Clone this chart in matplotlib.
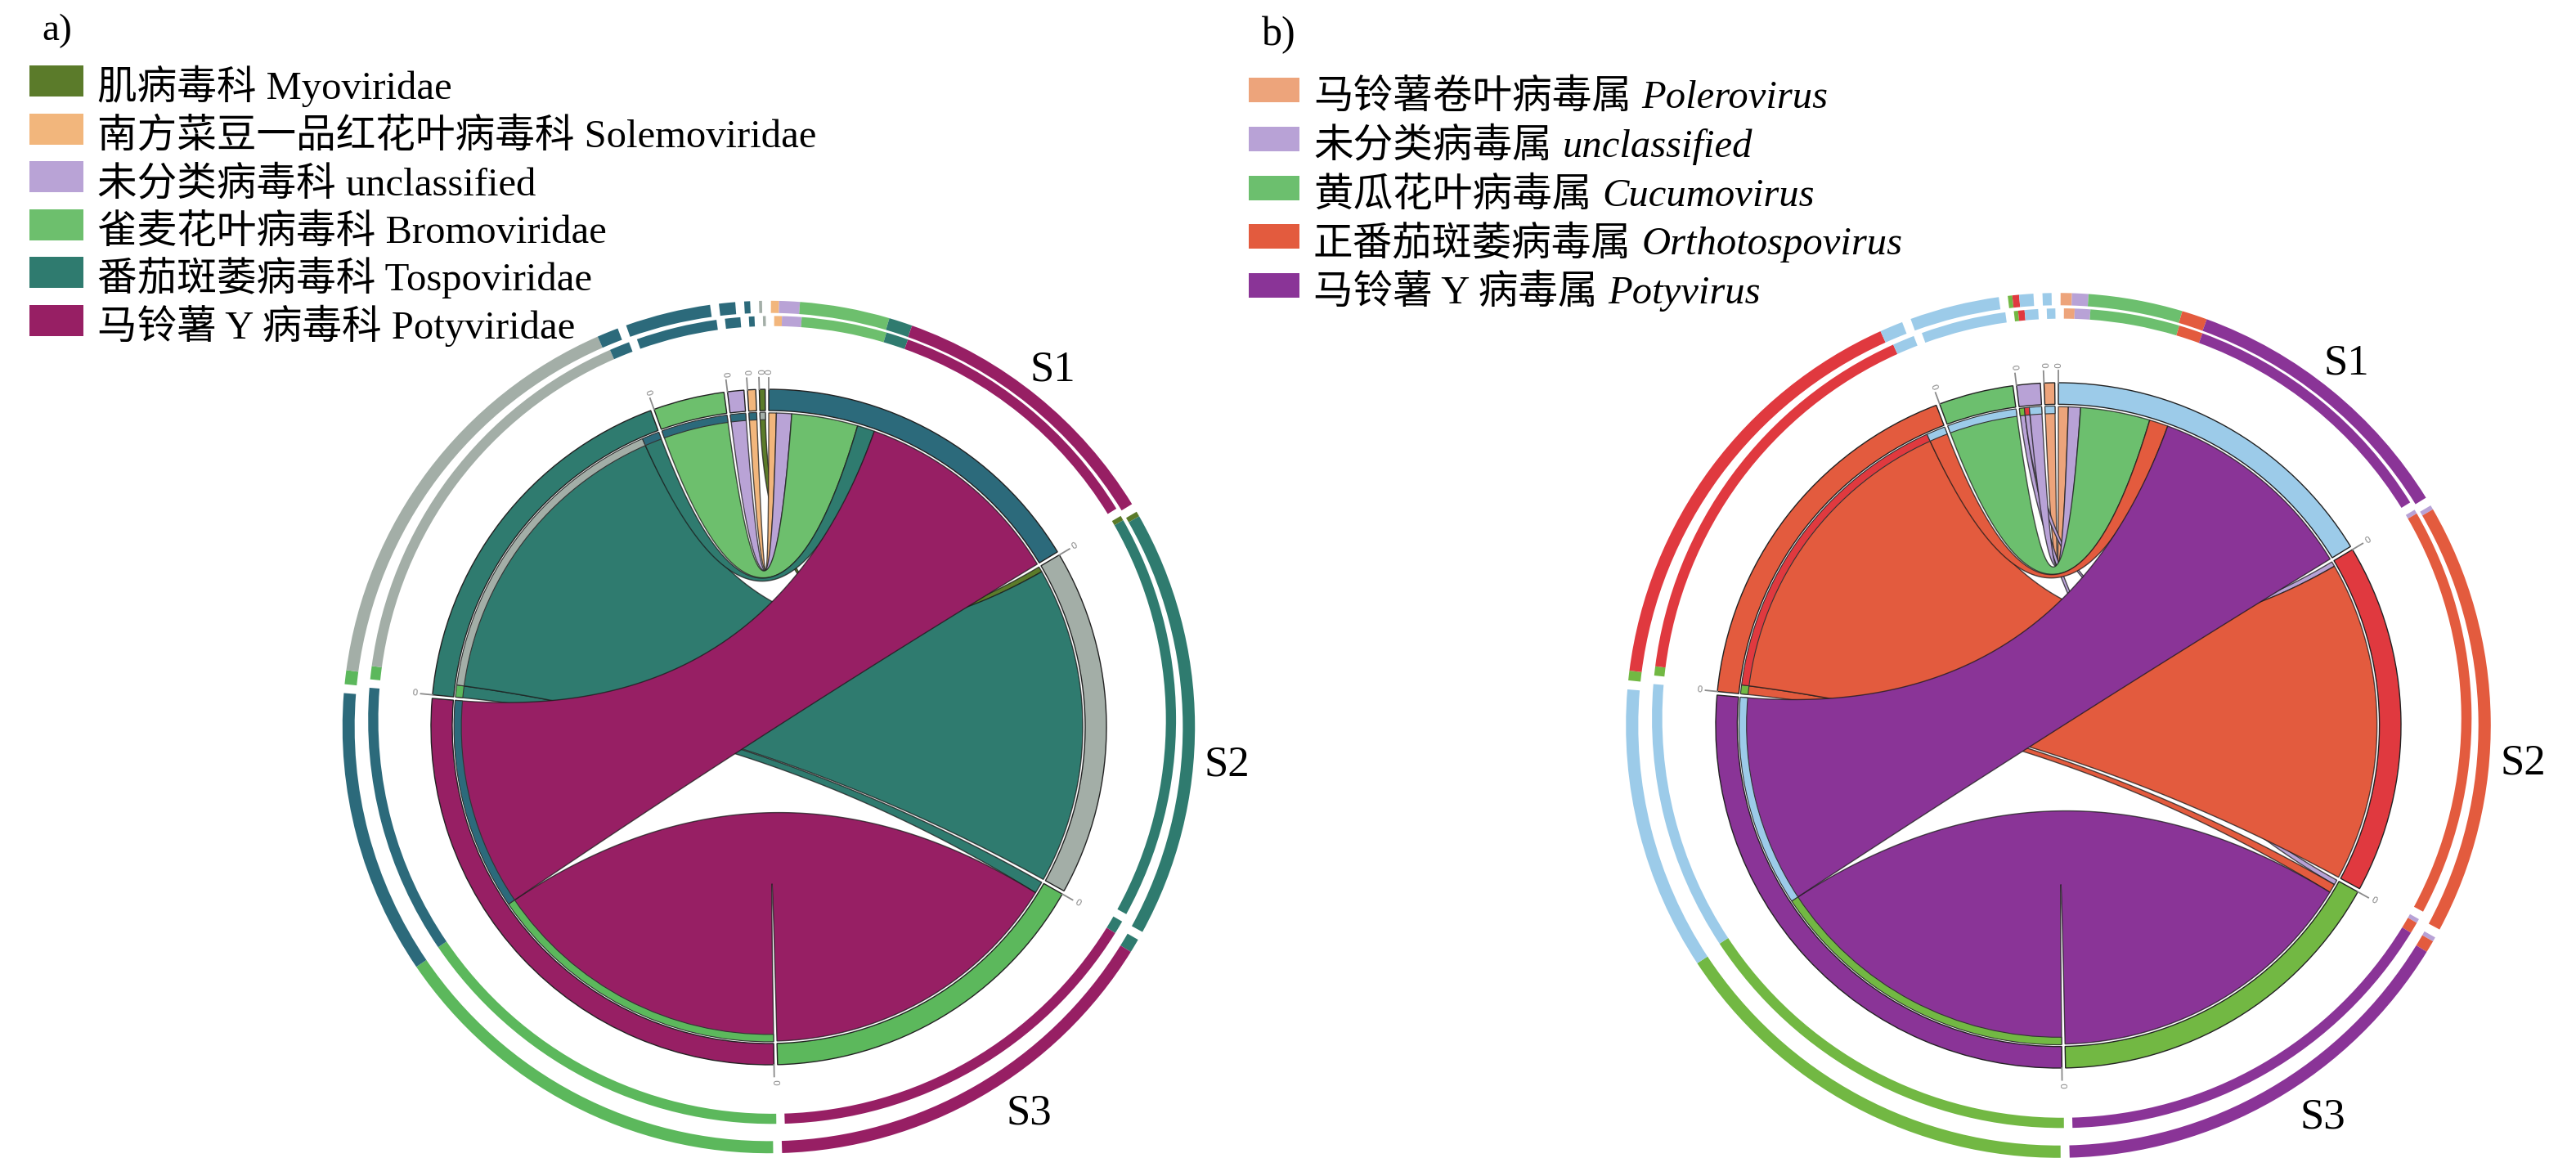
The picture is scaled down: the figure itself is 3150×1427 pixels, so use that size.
import numpy as np
import matplotlib.pyplot as plt
from matplotlib.patches import Polygon, Wedge, Rectangle

plt.rcParams['font.family'] = ['Liberation Serif', 'Noto Sans CJK SC']

W, H = 3150, 1427

samples = ["S1", "S2", "S3"]

# a) virus families, in clockwise order after S3
a_families = ["Potyviridae", "Tospoviridae", "Bromoviridae", "unclassified",
              "Solemoviridae", "Myoviridae"]
a_names_cn = ["马铃薯 Y 病毒科", "番茄斑萎病毒科", "雀麦花叶病毒科", "未分类病毒科",
              "南方菜豆一品红花叶病毒科", "肌病毒科"]
a_s1 = [39.0, 3.2, 12.2, 2.8, 1.4, 0.0]
a_s2 = [0.0, 58.5, 0.0, 0.0, 0.0, 1.0]
a_s3 = [56.5, 2.2, 0.0, 0.0, 0.0, 0.0]
a_colors = ["#971f64", "#2f7b6f", "#6dbf6d", "#b9a3d6", "#f2b67c", "#5b7b2a"]
a_sample_colors = ["#2c6a7b", "#a3aea7", "#5cb85c"]

# b) virus genera
b_genera = ["Potyvirus", "Orthotospovirus", "Cucumovirus", "unclassified", "Polerovirus"]
b_names_cn = ["马铃薯 Y 病毒属", "正番茄斑萎病毒属", "黄瓜花叶病毒属", "未分类病毒属",
              "马铃薯卷叶病毒属"]
b_s1 = [38.3, 3.4, 12.6, 2.2, 1.8]
b_s2 = [0.0, 58.2, 0.0, 0.9, 0.0]
b_s3 = [57.0, 1.6, 0.0, 0.9, 0.0]
b_colors = ["#8a3497", "#e35b3e", "#6cbf6e", "#b8a2d6", "#eda47b"]
b_sample_colors = ["#9ccbe9", "#e0393f", "#72b843"]

# where the S1..S3 names sit: angle (deg, clockwise from top), radius / R
lab_ang = [38.5, 94.7, 146.0]
lab_rad = [1.35, 1.361, 1.38]


def pt(cx, cy, r, deg):
    t = np.radians(deg)
    return cx + r * np.sin(t), cy - r * np.cos(t)


def arc(cx, cy, r, a1, a2, n=80):
    x, y = pt(cx, cy, r, np.linspace(a1, a2, n))
    return np.column_stack([x, y])


def bez(cx, cy, r, a1, a2, n=100):
    # quadratic bezier with the control point in the centre
    p0 = np.array(pt(0, 0, r, a1))
    p2 = np.array(pt(0, 0, r, a2))
    t = np.linspace(0, 1, n)[:, None]
    return (1 - t) ** 2 * p0 + t ** 2 * p2 + np.array([cx, cy])


def chord(ax, cx, cy, R, mat, gcols, scols):
    ns = len(samples)
    ng = len(gcols)
    cols = scols + gcols
    links = []
    for gi in range(ng):
        for si in range(ns):
            if mat[si][gi] > 0:
                links.append((ns + gi, si, mat[si][gi]))
    partners = [[] for _ in cols]
    for g, s, v in links:
        partners[g].append((s, v))
        partners[s].append((g, v))
    gap = 0.6
    k = (360 - gap * len(cols)) / (2 * sum(v for _, _, v in links))
    ends, spans = {}, []
    a = 0.0
    for i in range(len(cols)):
        a0 = a
        for p, v in sorted(partners[i], key=lambda t: -t[0]):
            ends[(i, p)] = (a, a + v * k)
            a += v * k
        spans.append((a0, a))
        a += gap

    r_link = 0.93 * R
    for g, s, v in sorted(links, key=lambda t: (-t[0], -t[1])):
        a1, a2 = ends[(g, s)]
        b1, b2 = ends[(s, g)]
        verts = np.vstack([arc(cx, cy, r_link, a1, a2), bez(cx, cy, r_link, a2, b1),
                           arc(cx, cy, r_link, b1, b2), bez(cx, cy, r_link, b2, a1)])
        ax.add_patch(Polygon(verts, closed=True, facecolor=cols[g],
                             edgecolor=(0.1, 0.1, 0.1, 0.75), lw=1.0, zorder=2))
        # small bar of the target colour on the virus side
        ax.add_patch(Wedge((cx, cy), 0.932 * R, a1 - 90, a2 - 90, width=0.022 * R,
                           facecolor=scols[s], edgecolor='#333333', lw=0.8, zorder=3))

    for i, (a0, a1) in enumerate(spans):
        ax.add_patch(Wedge((cx, cy), R, a0 - 90, a1 - 90, width=0.063 * R,
                           facecolor=cols[i], edgecolor='#222222', lw=1.0, zorder=3))
        x, y = zip(pt(cx, cy, R, a0), pt(cx, cy, 1.035 * R, a0))
        ax.plot(x, y, color='#8a8a8a', lw=1.3, zorder=4)
        rot = 90 - a0
        while rot <= -90:
            rot += 180
        while rot > 90:
            rot -= 180
        tx, ty = pt(cx, cy, 1.052 * R, a0)
        ax.text(tx, ty, "0", fontsize=8, color='#8a8a8a', rotation=rot,
                ha='center', va='center', family='DejaVu Sans', zorder=4)
        # two outer tracks with the partner colours
        for p, v in sorted(partners[i], key=lambda t: -t[0]):
            e1, e2 = ends[(i, p)]
            e1 = max(e1, a0 + 0.3)
            e2 = min(e2, a1 - 0.3)
            if e2 <= e1:
                continue
            ax.add_patch(Wedge((cx, cy), 1.262 * R, e1 - 90, e2 - 90, width=0.036 * R,
                               facecolor=cols[p], edgecolor='none', zorder=2))
            ax.add_patch(Wedge((cx + 0.01 * R, cy - 0.021 * R), 1.196 * R, e1 - 90, e2 - 90,
                               width=0.03 * R, facecolor=cols[p], edgecolor='none', zorder=2))

    for j, name in enumerate(samples):
        lx, ly = pt(cx, cy, lab_rad[j] * R, lab_ang[j])
        ax.text(lx, ly, name, fontsize=38, ha='center', va='center',
                family='Liberation Serif')


fig = plt.figure(figsize=(W / 100, H / 100), dpi=100)
ax = fig.add_axes([0, 0, 1, 1])
ax.set_xlim(0, W)
ax.set_ylim(H, 0)
ax.axis('off')

chord(ax, 940, 889, 413, [a_s1, a_s2, a_s3], a_colors, a_sample_colors)
chord(ax, 2517, 887, 419, [b_s1, b_s2, b_s3], b_colors, b_sample_colors)

# legends
ax.text(70, 38, "a)", fontsize=34, ha='center', va='center')
for i, (cn, lat, c) in enumerate(zip(a_names_cn[::-1], a_families[::-1], a_colors[::-1])):
    yc = 99 + 58.6 * i
    ax.add_patch(Rectangle((36, yc - 19), 66, 38, facecolor=c, edgecolor='none'))
    ax.text(119, yc + 22, cn + " " + lat, fontsize=35, va='baseline', ha='left')

ax.text(1564, 43, "b)", fontsize=36, ha='center', va='center')
for i, (cn, lat, c) in enumerate(zip(b_names_cn[::-1], b_genera[::-1], b_colors[::-1])):
    yc = 110 + 59.8 * i
    ax.add_patch(Rectangle((1527, yc - 15), 62, 30, facecolor=c, edgecolor='none'))
    t = ax.text(1606, yc + 22, cn, fontsize=35, va='baseline', ha='left')
    ax.annotate(lat, xy=(1, 0), xycoords=t, xytext=(9, 0), textcoords='offset points',
                fontsize=35, fontstyle='italic', family='Liberation Serif',
                va='bottom', ha='left')

fig.savefig("out.png", dpi=100)
